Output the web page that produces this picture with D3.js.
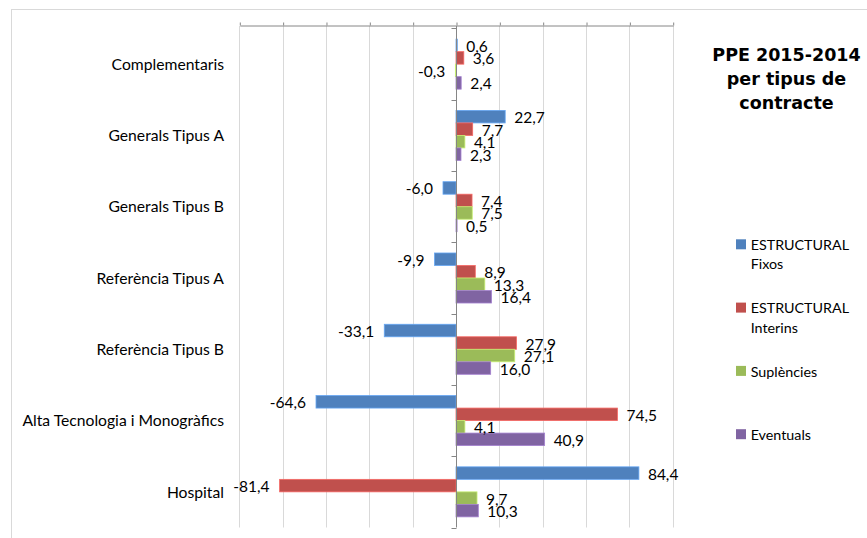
<!DOCTYPE html>
<html>

<head>
  <meta charset="utf-8">
  <title>PPE 2015-2014 per tipus de contracte</title>
  <style>
    body { margin: 0; background: #fff; }
    text { font-family: Lato, "Noto Sans", sans-serif; fill: #000; }
  </style>
</head>

<body>
  <svg id="svg"></svg>

  <script src="https://d3js.org/d3.v7.min.js"></script>
  <script>
    // data
    let categories = ["Complementaris", "Generals Tipus A", "Generals Tipus B", "Referència Tipus A",
      "Referència Tipus B", "Alta Tecnologia i Monogràfics", "Hospital"];
    let series = ["ESTRUCTURAL Fixos", "ESTRUCTURAL Interins", "Suplències", "Eventuals"];
    let fixos = [0.6, 22.7, -6.0, -9.9, -33.1, -64.6, 84.4];
    let interins = [3.6, 7.7, 7.4, 8.9, 27.9, 74.5, -81.4];
    let suplencies = [-0.3, 4.1, 7.5, 13.3, 27.1, 4.1, 9.7];
    let eventuals = [2.4, 2.3, 0.5, 16.4, 16.0, 40.9, 10.3];
    let legendLines = [["ESTRUCTURAL", "Fixos"], ["ESTRUCTURAL", "Interins"], ["Suplències"], ["Eventuals"]];
    let titleLines = ["PPE 2015-2014", "per tipus de", "contracte"];
    let xTicks = d3.range(-100, 101, 20);

    let colors = ["#4F81BD", "#C0504D", "#9BBB59", "#8064A2"];
    let values = [fixos, interins, suplencies, eventuals];

    let data = [];
    categories.forEach((c, i) => {
      series.forEach((s, j) => data.push({ cat: c, series: s, value: values[j][i] }));
    });

    let width = 867, height = 538;
    let fmt = d3.formatLocale({ decimal: ",", thousands: ".", grouping: [3], currency: ["", "€"], minus: "-" }).format(".1f");

    let svg = d3.select("#svg").attr("width", width).attr("height", height);

    // chart frame
    svg.append("rect")
      .attr("x", 11.5).attr("y", 9.5)
      .attr("width", 900).attr("height", 600)
      .attr("fill", "none").attr("stroke", "#d9d9d9");

    let x = d3.scaleLinear().domain([-100, 100]).range([239.3, 672.7]);
    let y = d3.scaleBand().domain(categories).range([28.5, 527.5]);
    let yInner = d3.scaleBand().domain(series).range([0, y.bandwidth()]).paddingOuter(0.85);
    let z = d3.scaleOrdinal().domain(series).range(colors);

    let plotTop = 26, plotBottom = 527.5;

    // gridlines
    svg.append("g").selectAll("line")
      .data(xTicks.filter(t => t !== 0))
      .join("line")
      .attr("x1", d => Math.round(x(d)) + 0.5).attr("x2", d => Math.round(x(d)) + 0.5)
      .attr("y1", plotTop).attr("y2", plotBottom)
      .attr("stroke", "#d9d9d9");

    // value axis on top (no labels)
    let xAxis = svg.append("g")
      .attr("transform", `translate(0.5, ${plotTop - 0.5})`)
      .call(d3.axisTop(x).tickValues(xTicks).tickSize(3).tickSizeOuter(0).tickFormat(""));
    xAxis.selectAll("path, line").attr("stroke", "#868686");

    // bars
    svg.append("g").selectAll("rect")
      .data(data)
      .join("rect")
      .attr("x", d => x(Math.min(0, d.value)))
      .attr("y", d => y(d.cat) + yInner(d.series))
      .attr("width", d => Math.abs(x(d.value) - x(0)))
      .attr("height", yInner.bandwidth())
      .attr("fill", d => z(d.series))
      .attr("stroke", d => d3.color(z(d.series)).brighter(0.7))
      .attr("stroke-width", 0.8);

    // category axis at zero
    let yAxis = svg.append("g")
      .attr("transform", `translate(${Math.round(x(0)) + 0.5}, 0)`)
      .call(d3.axisLeft(y).tickSize(0).tickFormat(""));
    yAxis.select("path").attr("stroke", "#868686").attr("d", `M0,${plotTop}V${plotBottom}`);
    yAxis.selectAll(".tick").remove();
    yAxis.selectAll(".sep")
      .data(categories.map(c => y(c)).concat([y.range()[1]]))
      .join("line")
      .attr("x1", -5).attr("x2", 0)
      .attr("y1", d => Math.round(d) + 0.5).attr("y2", d => Math.round(d) + 0.5)
      .attr("stroke", "#868686");

    // category labels at the low end
    svg.append("g").selectAll("text")
      .data(categories)
      .join("text")
      .attr("x", 224)
      .attr("y", d => y(d) + y.bandwidth() / 2)
      .attr("dy", "0.36em")
      .attr("text-anchor", "end")
      .style("font-size", "15.7px")
      .text(d => d);

    // data labels
    svg.append("g").selectAll("text")
      .data(data)
      .join("text")
      .attr("x", d => d.value < 0 ? x(d.value) - 10 : x(d.value) + 9)
      .attr("y", d => y(d.cat) + yInner(d.series) + yInner.bandwidth() / 2)
      .attr("dy", "0.42em")
      .attr("text-anchor", d => d.value < 0 ? "end" : "start")
      .style("font-size", "15.5px")
      .text(d => fmt(d.value));

    // title
    svg.append("text")
      .attr("x", 786.5).attr("y", 61)
      .attr("text-anchor", "middle")
      .style("font-family", "'DejaVu Sans', sans-serif")
      .style("font-weight", "bold")
      .style("font-size", "17.5px")
      .selectAll("tspan")
      .data(titleLines)
      .join("tspan")
      .attr("x", 786.5)
      .attr("dy", (d, i) => i === 0 ? 0 : 24)
      .text(d => d);

    // legend
    let legend = svg.append("g").selectAll("g")
      .data(series)
      .join("g")
      .attr("transform", (d, i) => `translate(736, ${244.3 + i * 63.3})`);

    legend.append("rect")
      .attr("x", 0).attr("y", -5)
      .attr("width", 10).attr("height", 10)
      .attr("fill", d => z(d));

    legend.append("text")
      .attr("x", 14.7).attr("y", 5.7)
      .style("font-size", "14.3px")
      .selectAll("tspan")
      .data((d, i) => legendLines[i])
      .join("tspan")
      .attr("x", 14.7)
      .attr("dy", (d, i) => i === 0 ? 0 : 19.5)
      .text(d => d);
  </script>
</body>

</html>
